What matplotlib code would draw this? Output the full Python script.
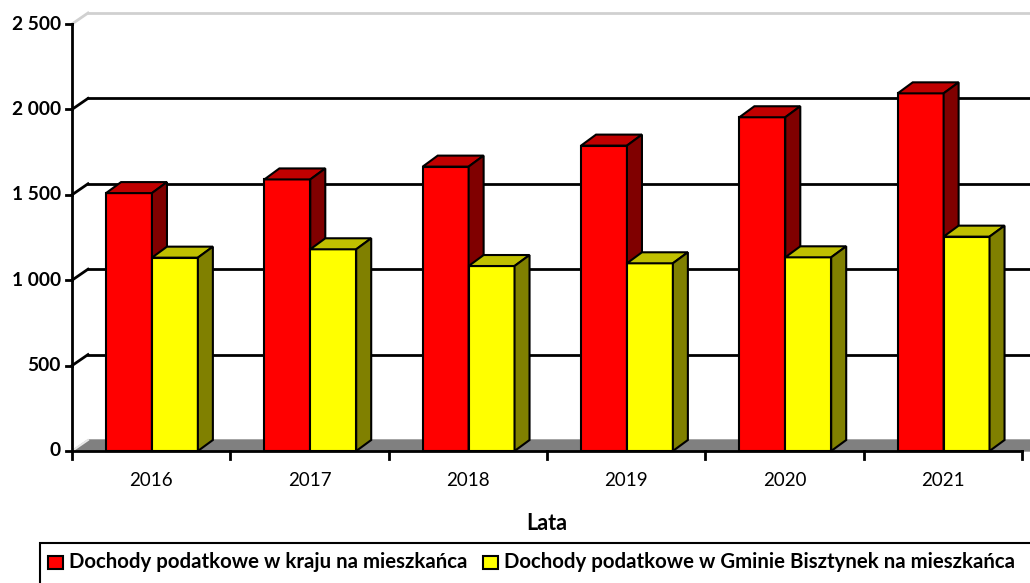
import matplotlib.pyplot as plt
from matplotlib.patches import Polygon, Rectangle

years = ['2016', '2017', '2018', '2019', '2020', '2021']
kraj = [1510, 1590, 1665, 1788, 1954, 2094]
bisztynek = [1132, 1181, 1083, 1099, 1134, 1255]
y_ticks = [0, 500, 1000, 1500, 2000, 2500]
y_labels = ['0', '500', '1 000', '1 500', '2 000', '2 500']

W, H = 1030, 583
fig = plt.figure(figsize=(W / 100, H / 100), dpi=100)
plt.rcParams['font.family'] = ['Lato', 'DejaVu Sans']

# front plot area in pixels
left, right, top, bottom = 72, 1022, 24, 451
ax = fig.add_axes([left / W, 1 - bottom / H, (right - left) / W, (bottom - top) / H])
ax.set_xlim(0, len(years))
ax.set_ylim(0, 2500)
ax.axis('off')

# depth offset (pixels -> data units)
px_x = len(years) / (right - left)
px_y = 2500 / (bottom - top)
dx, dy = 16 * px_x, 11 * px_y
bdx, bdy = 15 * px_x, 11 * px_y


def poly(pts, fc, z, ec='black', lw=1.5):
    ax.add_patch(Polygon(pts, closed=True, facecolor=fc, edgecolor=ec,
                         linewidth=lw, zorder=z, clip_on=False, joinstyle='miter'))


# back wall gridlines and side wall edges
for v in y_ticks[1:]:
    col = '#d0d0d0' if v == 2500 else 'black'
    ax.plot([dx, len(years) + dx + 0.2], [v + dy, v + dy], color=col, lw=2, clip_on=False, zorder=1)
    ax.plot([0, dx], [v, v + dy], color=col, lw=2, clip_on=False, zorder=1)

# floor
poly([(0, 0), (len(years) + 0.2, 0), (len(years) + dx + 0.2, dy), (dx, dy)], '#808080', 2, ec='#808080', lw=1)
ax.plot([0, dx], [0, dy], color='#e8e8e8', lw=1.5, clip_on=False, zorder=2)


def bar3d(x0, w, h, front, topc, side, z):
    poly([(x0, 0), (x0 + w, 0), (x0 + w, h), (x0, h)], front, z)
    poly([(x0, h), (x0 + w, h), (x0 + w + bdx, h + bdy), (x0 + bdx, h + bdy)], topc, z)
    poly([(x0 + w, 0), (x0 + w + bdx, bdy), (x0 + w + bdx, h + bdy), (x0 + w, h)], side, z)


bw = 0.29
for i in range(len(years)):
    bar3d(i + 0.215, bw, kraj[i], '#FF0000', '#C00000', '#800000', 3 + i)
    bar3d(i + 0.215 + bw, bw, bisztynek[i], '#FFFF00', '#C0C000', '#808000', 3.5 + i)

# axes lines and ticks
ax.plot([0, 0], [0, 2500], color='black', lw=2, clip_on=False, zorder=20)
ax.plot([0, len(years)], [0, 0], color='black', lw=2, clip_on=False, zorder=20)
for v, lab in zip(y_ticks, y_labels):
    ax.plot([-6 * px_x, 0], [v, v], color='black', lw=2, clip_on=False, zorder=20)
    ax.text(-11 * px_x, v, lab, ha='right', va='center', fontsize=13.8, fontweight='bold')
for i in range(len(years) + 1):
    ax.plot([i, i], [0, -8 * px_y], color='black', lw=2, clip_on=False, zorder=20)
for i, y in enumerate(years):
    ax.text(i + 0.5, -29 * px_y, y, ha='center', va='center', fontsize=13.5)

fig.text(547 / W, 1 - 523 / H, 'Lata', ha='center', va='center', fontsize=15.5, fontweight='bold')

# legend
fig.patches.append(Rectangle((40 / W, 1 - 600 / H), 1000 / W, 57 / H, transform=fig.transFigure,
                             facecolor='white', edgecolor='black', lw=1.5))
fig.patches.append(Rectangle((48 / W, 1 - 569 / H), 15 / W, 13 / H, transform=fig.transFigure,
                             facecolor='#FF0000', edgecolor='black', lw=1.5))
fig.text(69 / W, 1 - 562 / H, 'Dochody podatkowe w kraju na mieszkańca', va='center',
         fontsize=14.7, fontweight='bold')
fig.patches.append(Rectangle((483 / W, 1 - 569 / H), 15 / W, 13 / H, transform=fig.transFigure,
                             facecolor='#FFFF00', edgecolor='black', lw=1.5))
fig.text(504 / W, 1 - 562 / H, 'Dochody podatkowe w Gminie Bisztynek na mieszkańca', va='center',
         fontsize=14.7, fontweight='bold')

fig.savefig('out.png', dpi=100)
